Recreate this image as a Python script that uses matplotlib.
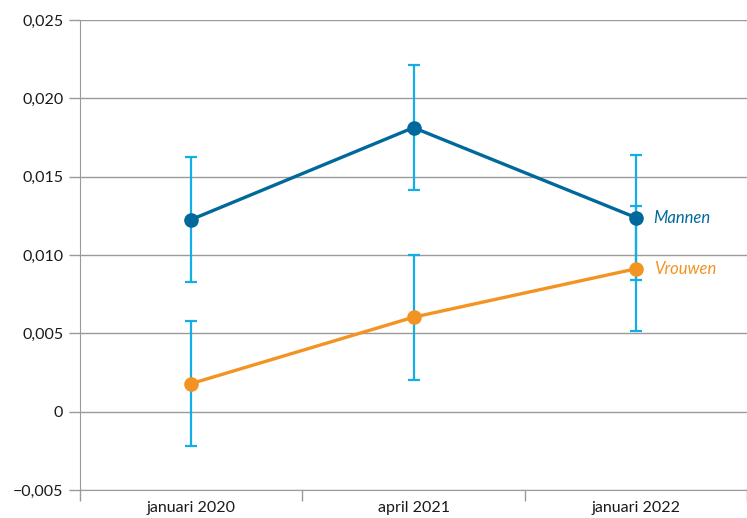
import matplotlib
matplotlib.use("Agg")
import matplotlib.pyplot as plt
from matplotlib.ticker import FixedLocator, FuncFormatter

# === DATA ===
periods = ["januari 2020", "april 2021", "januari 2022"]
mannen = [0.01226, 0.01813, 0.01239]
mannen_err = [0.0040, 0.0040, 0.0040]
vrouwen = [0.00179, 0.00603, 0.00912]
vrouwen_err = [0.0040, 0.0040, 0.0040]
series_labels = ["Mannen", "Vrouwen"]

# === STYLE ===
BLUE = "#00699b"
ORANGE = "#f39322"
ERR = "#14ade6"
GRID = "#9a9a9a"
plt.rcParams["font.family"] = ["Lato", "DejaVu Sans"]


def fmt_nl(v, pos):
    if abs(v) < 1e-12:
        return "0"
    s = f"{abs(v):.3f}".replace(".", ",")
    return ("\u2212" if v < 0 else "") + s


fig = plt.figure(figsize=(7.47, 5.18), dpi=100)
ax = fig.add_axes([80 / 747, 28 / 518, 667 / 747, 470 / 518])

x = list(range(len(periods)))

# error bars behind the lines
ax.errorbar(x, mannen, yerr=mannen_err, fmt="none", ecolor=ERR,
            elinewidth=1.6, capsize=4.5, capthick=1.6, zorder=2)
ax.errorbar(x, vrouwen, yerr=vrouwen_err, fmt="none", ecolor=ERR,
            elinewidth=1.6, capsize=4.5, capthick=1.6, zorder=2)

ax.plot(x, mannen, color=BLUE, lw=2.4, marker="o", ms=9.5, zorder=3)
ax.plot(x, vrouwen, color=ORANGE, lw=2.4, marker="o", ms=9.5, zorder=3)

# series labels at the right end
ax.text(x[-1] + 0.08, mannen[-1], series_labels[0], color=BLUE,
        style="italic", fontsize=12, va="center", ha="left")
ax.text(x[-1] + 0.08, vrouwen[-1], series_labels[1], color=ORANGE,
        style="italic", fontsize=12, va="center", ha="left")

ax.set_xlim(-0.5, len(periods) - 0.5)
ax.set_ylim(-0.005, 0.025)

ax.yaxis.set_major_locator(FixedLocator([-0.005, 0, 0.005, 0.010, 0.015, 0.020, 0.025]))
ax.yaxis.set_major_formatter(FuncFormatter(fmt_nl))
ax.grid(axis="y", color=GRID, lw=1.0)
ax.set_axisbelow(True)

# category ticks at the band boundaries, labels centred
ax.set_xticks([i - 0.5 for i in range(len(periods) + 1)])
ax.set_xticklabels([])
ax.set_xticks(x, minor=True)
ax.set_xticklabels(periods, minor=True)
ax.tick_params(axis="x", which="minor", length=0, pad=8, labelsize=11.5, colors="#1a1a1a")
ax.tick_params(axis="x", which="major", length=8, color=GRID, width=1.0)
ax.tick_params(axis="y", length=8, color=GRID, width=1.0, labelsize=11.5,
               labelcolor="#1a1a1a", pad=4)

for side in ["top", "right"]:
    ax.spines[side].set_visible(False)
ax.spines["left"].set_color(GRID)
ax.spines["bottom"].set_color(GRID)

fig.savefig("out.png", dpi=100)
